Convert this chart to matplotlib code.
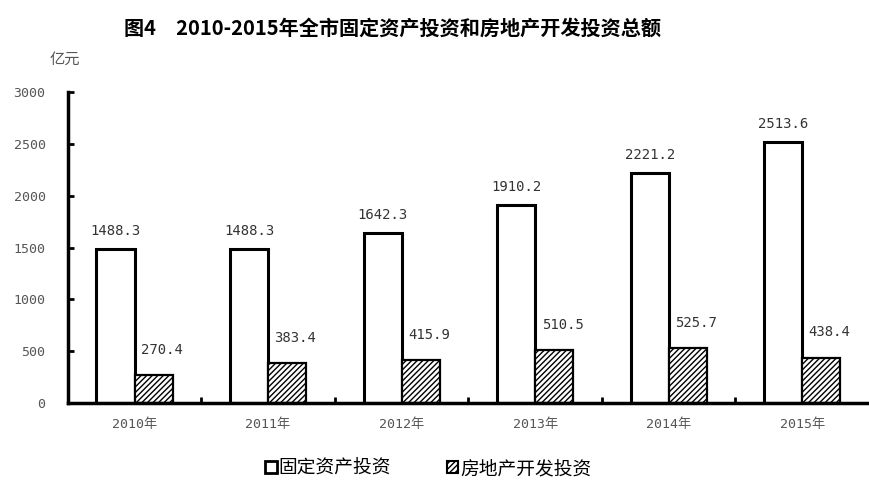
"""图4 2010-2015年全市固定资产投资和房地产开发投资总额 -- grouped bar chart."""
import matplotlib
matplotlib.use("Agg")
import matplotlib.pyplot as plt
from matplotlib.patches import Patch
from matplotlib.ticker import FixedLocator
import numpy as np

plt.rcParams["font.family"] = ["Noto Sans CJK SC", "DejaVu Sans"]
plt.rcParams["hatch.linewidth"] = 1.0

years = ["2010年", "2011年", "2012年", "2013年", "2014年", "2015年"]
fixed_invest = [1488.3, 1488.3, 1642.3, 1910.2, 2221.2, 2513.6]
estate_invest = [270.4, 383.4, 415.9, 510.5, 525.7, 438.4]
series_names = ["固定资产投资", "房地产开发投资"]

MONO = ["DejaVu Sans Mono", "Noto Sans CJK SC"]
GREY = "#555555"

fig = plt.figure(figsize=(8.69, 4.82), dpi=100)
ax = fig.add_axes([0.078, 0.164, 0.922, 0.645])

x = np.arange(len(years))
w = 0.285
b1 = ax.bar(x - w / 2, fixed_invest, w, color="white", edgecolor="black", lw=2.2)
b2 = ax.bar(x + w / 2, estate_invest, w, color="white", edgecolor="black", lw=1.6,
            hatch="//////")

lab_color = "#333333"
for rect, v in zip(b1, fixed_invest):
    ax.annotate(f"{v:.1f}", (rect.get_x() + rect.get_width() / 2, v),
                xytext=(0, 8), textcoords="offset points", ha="center", va="bottom",
                fontsize=10, color=lab_color, family=MONO)
for rect, v in zip(b2, estate_invest):
    ax.annotate(f"{v:.1f}", (rect.get_x() + rect.get_width() / 2, v),
                xytext=(6, 13), textcoords="offset points", ha="center", va="bottom",
                fontsize=10, color=lab_color, family=MONO)

ax.set_xlim(-0.5, 5.5)
ax.set_ylim(0, 3000)
ax.set_yticks(np.arange(0, 3001, 500))
ax.set_xticks(x)
ax.set_xticklabels(years)
ax.xaxis.set_minor_locator(FixedLocator(np.arange(0.5, 5.0, 1.0)))
for t in ax.get_xticklabels() + ax.get_yticklabels():
    t.set_family(MONO)

for s in ("top", "right"):
    ax.spines[s].set_visible(False)
for s in ("left", "bottom"):
    ax.spines[s].set_linewidth(2.5)

ax.tick_params(axis="y", direction="in", length=4, width=2, labelsize=9.5,
               labelcolor=GREY, pad=16)
ax.tick_params(axis="x", which="major", length=0, labelsize=9.5, labelcolor=GREY, pad=11)
ax.tick_params(axis="x", which="minor", direction="in", length=4, width=2)

fig.text(0.075, 0.876, "亿元", fontsize=11, color=GREY, ha="center", va="center")
fig.text(0.452, 0.942, "图4　2010-2015年全市固定资产投资和房地产开发投资总额",
         fontsize=14.5, fontweight="bold", ha="center", va="center")

handles = [Patch(facecolor="white", edgecolor="black", lw=2),
           Patch(facecolor="white", edgecolor="black", lw=1.5, hatch="//////")]
fig.legend(handles, series_names, loc="center", bbox_to_anchor=(0.493, 0.028), ncol=2,
           frameon=False, fontsize=13.5, handlelength=0.6, handleheight=0.6,
           handletextpad=0.1, columnspacing=3.0)

fig.savefig("out.png", dpi=100)
